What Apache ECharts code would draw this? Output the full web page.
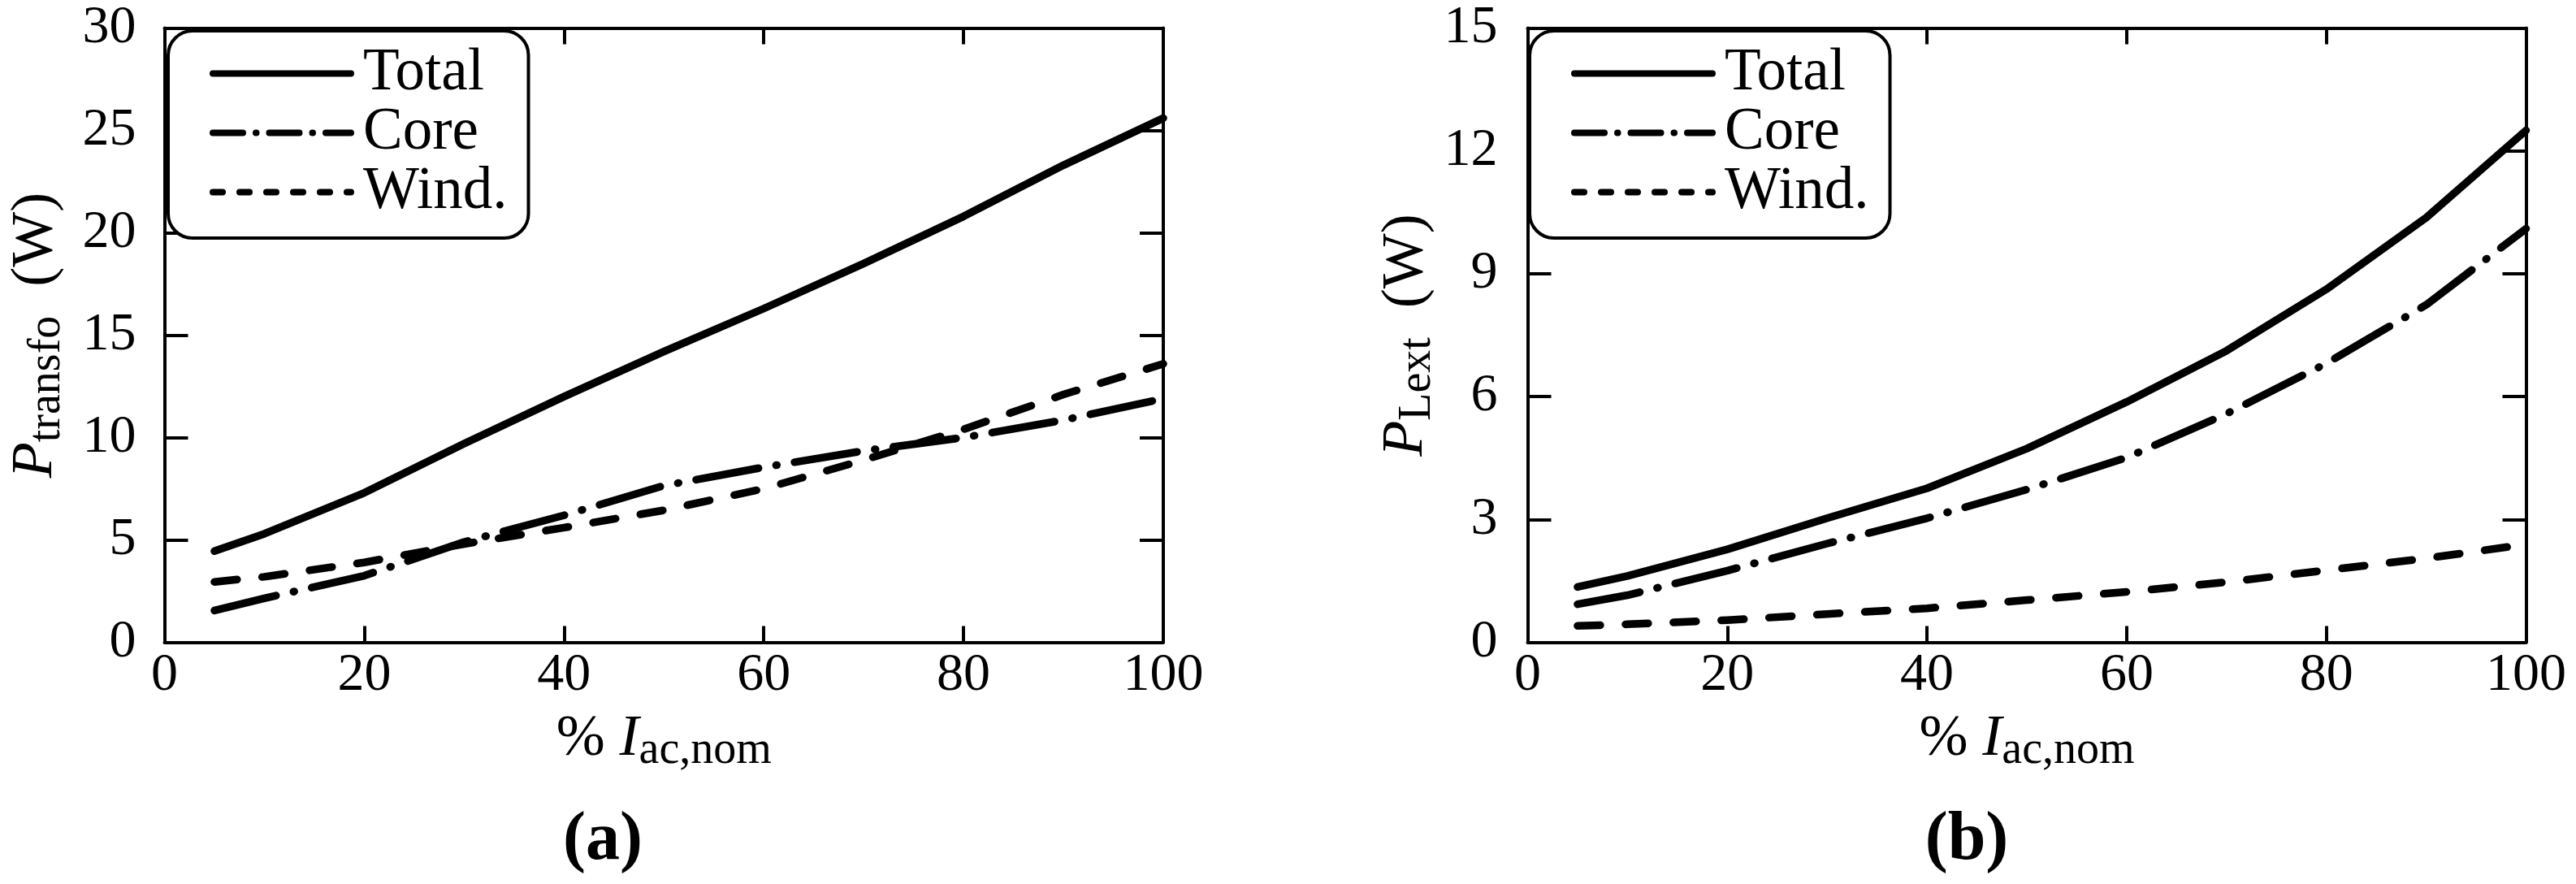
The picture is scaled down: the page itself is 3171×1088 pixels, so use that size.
<!DOCTYPE html>
<html><head><meta charset="utf-8">
<script src="https://cdn.jsdelivr.net/npm/echarts@6/dist/echarts.min.js"></script>
<style>html,body{margin:0;padding:0;background:#fff}#c{width:3171px;height:1088px}</style>
</head><body><div id="c"></div>
<script>
// ---- data ----
const xs = [5, 10, 20, 30, 40, 50, 60, 70, 80, 90, 100];
const aTotal = [4.45, 5.3, 7.3, 9.7, 12.0, 14.2, 16.3, 18.5, 20.8, 23.3, 25.6];
const aCore  = [1.55, 2.15, 3.25, 4.9, 6.2, 7.65, 8.55, 9.35, 10.0, 10.85, 11.9];
const aWind  = [2.95, 3.2, 3.9, 4.8, 5.6, 6.45, 7.5, 8.9, 10.4, 12.1, 13.6];
const bTotal = [1.35, 1.62, 2.27, 3.03, 3.76, 4.73, 5.87, 7.12, 8.62, 10.37, 12.5];
const bCore  = [0.93, 1.15, 1.75, 2.41, 3.03, 3.73, 4.51, 5.58, 6.81, 8.24, 10.1];
const bWind  = [0.40, 0.44, 0.54, 0.69, 0.83, 1.03, 1.23, 1.47, 1.76, 2.05, 2.39];
const seriesNames = ['Total', 'Core', 'Wind.'];
const xTicks = {min: 0, max: 100, interval: 20};
const aTicks = {min: 0, max: 30, interval: 5};
const bTicks = {min: 0, max: 15, interval: 3};
const captions = ['(a)', '(b)'];

// ---- styles ----
const F = 'Liberation Serif';
const K = '#000';
const pairs = ys => xs.map((x, i) => [x, ys[i]]);
const dashCore = [78, 22, 1, 22];
const dashWind = [28, 31];

function richName() {
  return {
    color: K, fontFamily: F, fontSize: 72,
    rich: {
      m: {fontFamily: F, fontSize: 72, lineHeight: 72, color: K},
      i: {fontFamily: F, fontSize: 72, lineHeight: 72, fontStyle: 'italic', color: K},
      s: {fontFamily: F, fontSize: 56, lineHeight: 56, padding: [27, 0, 0, 0], color: K}
    }
  };
}

function xAx(grid, pos) {
  const bottom = pos === 'bottom';
  return Object.assign({
    gridIndex: grid, type: 'value', position: pos,
    axisLine: {show: true, onZero: false, lineStyle: {color: K, width: 4}},
    axisTick: {show: true, inside: true, length: 20, lineStyle: {color: K, width: 4}},
    axisLabel: {show: bottom, margin: 8, fontFamily: F, fontSize: 66, color: K},
    splitLine: {show: false},
    name: bottom ? '{m|% }{i|I}{s|ac,nom}' : '',
    nameLocation: 'middle', nameGap: 84,
    nameTextStyle: richName(),
    nameMoveOverlap: false
  }, xTicks);
}
function yAx(grid, pos, ticks, sub, gap, margin) {
  const left = pos === 'left';
  return Object.assign({
    gridIndex: grid, type: 'value', position: pos,
    axisLine: {show: true, onZero: false, lineStyle: {color: K, width: 4}},
    axisTick: {show: true, inside: true, length: 29, lineStyle: {color: K, width: 4}},
    axisLabel: {show: left, margin: margin, fontFamily: F, fontSize: 66, color: K},
    splitLine: {show: false},
    name: left ? '{i|P}{s|' + sub + '}{m|  (W)}' : '',
    nameLocation: 'middle', nameGap: gap,
    nameTextStyle: richName(),
    nameMoveOverlap: false
  }, ticks);
}

function mkSeries(xi, yi, vals) {
  const types = ['solid', dashCore, dashWind];
  return vals.map((v, k) => ({
    type: 'line', name: seriesNames[k], xAxisIndex: xi, yAxisIndex: yi,
    data: pairs(v), symbol: 'none', smooth: false,
    lineStyle: {color: K, width: 9.5, type: types[k], cap: 'round', join: 'round'},
    itemStyle: {color: K}
  }));
}

function legendAt(left) {
  const hide = {opacity: 0, borderWidth: 0};
  return {
    orient: 'vertical', left: left, top: 38,
    padding: [16, 26, 20, 51],
    itemWidth: 170, itemHeight: 14, itemGap: 0,
    backgroundColor: '#fff', borderColor: K, borderWidth: 4, borderRadius: 30,
    textStyle: {fontFamily: F, fontSize: 73, lineHeight: 68.5, color: K, padding: [0, 0, 0, 10]},
    selectedMode: false,
    data: [
      {name: seriesNames[0], itemStyle: hide, lineStyle: {width: 8, type: 'solid'}},
      {name: seriesNames[1], itemStyle: hide, lineStyle: {width: 8, type: [37, 16, 0.5, 16]}},
      {name: seriesNames[2], itemStyle: hide, lineStyle: {width: 8, type: [12, 21]}}
    ]
  };
}

const chart = echarts.init(document.getElementById('c'), null, {renderer: 'canvas'});
chart.setOption({
  backgroundColor: '#fff',
  animation: false,
  grid: [
    {left: 202.5, top: 34.5, width: 1229.5, height: 756, outerBoundsMode: 'none', containLabel: false},
    {left: 1880.5, top: 34.5, width: 1229, height: 756, outerBoundsMode: 'none', containLabel: false}
  ],
  xAxis: [xAx(0, 'bottom'), xAx(0, 'top'), xAx(1, 'bottom'), xAx(1, 'top')],
  yAxis: [
    yAx(0, 'left', aTicks, 'transfo', 122, 35), yAx(0, 'right', aTicks, '', 0, 0),
    yAx(1, 'left', bTicks, 'Lext', 113, 37), yAx(1, 'right', bTicks, '', 0, 0)
  ],
  legend: [legendAt(207), legendAt(1883)],
  series: [].concat(
    mkSeries(0, 0, [aTotal, aCore, aWind]),
    mkSeries(2, 2, [bTotal, bCore, bWind])
  ),
  graphic: [
    {type: 'text', x: 742, y: 1035, style: {text: captions[0], font: "bold 84px 'Liberation Serif', serif", fill: K, textAlign: 'center', textVerticalAlign: 'middle'}},
    {type: 'text', x: 2421, y: 1035, style: {text: captions[1], font: "bold 84px 'Liberation Serif', serif", fill: K, textAlign: 'center', textVerticalAlign: 'middle'}}
  ]
});
</script></body></html>
